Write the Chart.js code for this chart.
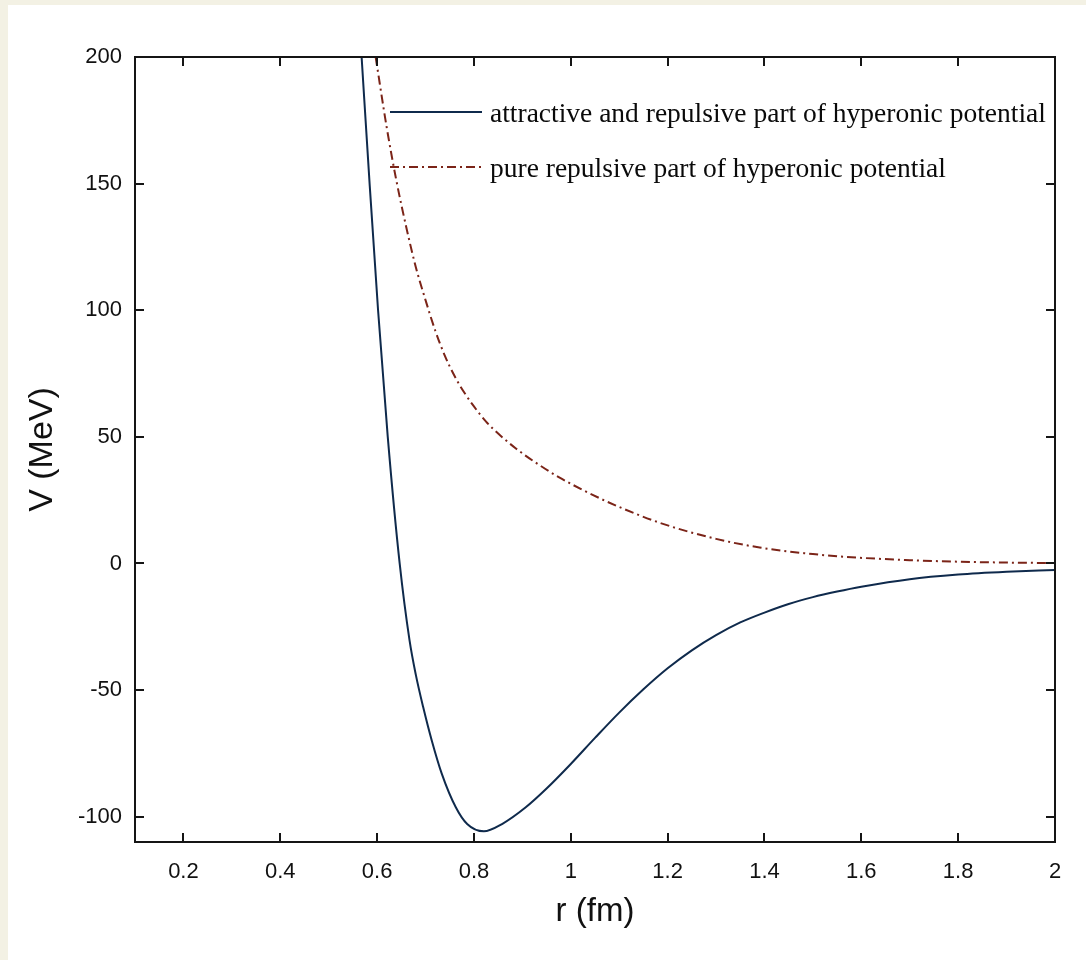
<!DOCTYPE html>
<html>
<head>
<meta charset="utf-8">
<script src="https://cdn.jsdelivr.net/npm/chart.js@4"></script>
<style>
  body { margin: 0; background: #f3f1e4; }
  #cadre { position: absolute; left: 8px; top: 5px; right: 0; bottom: 0; background: #fff; }
  #graphique { position: absolute; left: 0; top: 0; }
</style>
</head>
<body>
<div id="cadre"></div>
<canvas id="graphique" width="1086" height="960"></canvas>
<script>
// DONNEES
const r_total = [0.568, 0.5845, 0.602, 0.622, 0.6466, 0.667, 0.680, 0.695, 0.713, 0.7335, 0.7625, 0.786, 0.8205, 0.858, 0.907, 0.950, 1.000, 1.050, 1.100, 1.150, 1.200, 1.250, 1.300, 1.350, 1.400, 1.450, 1.500, 1.550, 1.600, 1.700, 1.800, 1.900, 2.000];
const v_total = [200, 150, 100, 50, 0, -30.4, -44, -56.6, -70, -83, -96.3, -102.9, -105.8, -102.9, -96.3, -88.9, -79.2, -68.9, -58.9, -49.7, -41.4, -34.3, -28.3, -23.3, -19.4, -16.0, -13.3, -11.1, -9.2, -6.2, -4.4, -3.3, -2.55];

const r_repulsif = [0.597, 0.620, 0.640, 0.660, 0.680, 0.700, 0.720, 0.740, 0.760, 0.780, 0.800, 0.825, 0.850, 0.886, 0.934, 0.976, 1.044, 1.100, 1.183, 1.300, 1.390, 1.500, 1.597, 1.700, 1.800, 1.900, 2.000];
const v_repulsif = [200, 172, 151, 133, 117, 104, 92, 82, 74, 67.5, 62, 56, 51.3, 45.5, 39, 34, 27.2, 22.3, 16.1, 9.7, 6.3, 3.7, 2.25, 1.3, 0.7, 0.35, 0.15];

const x_ticks = [0.2, 0.4, 0.6, 0.8, 1, 1.2, 1.4, 1.6, 1.8, 2];
const y_ticks = [-100, -50, 0, 50, 100, 150, 200];

const labels_legende = ['attractive and repulsive part of hyperonic potential', 'pure repulsive part of hyperonic potential'];

const couleurBleu = '#0f2a4c';
const couleurRouge = '#7b2418';
const tiretPoint = [9, 4, 2, 4];

function enPoints(rs, vs) {
    return rs.map((r, i) => ({x: r, y: vs[i]}));
}

// CADRE NOIR + PETITS TRAITS VERS L'INTERIEUR SUR LES 4 COTES
const cadreEtTraits = {
    id: 'cadreEtTraits',
    afterDraw(chart) {
        const {ctx, chartArea: a, scales: {x, y}} = chart;
        ctx.save();
        ctx.strokeStyle = '#151515';
        ctx.lineWidth = 2;
        ctx.strokeRect(a.left, a.top, a.right - a.left, a.bottom - a.top);
        ctx.beginPath();
        x_ticks.forEach(v => {
            const px = Math.round(x.getPixelForValue(v));
            ctx.moveTo(px, a.bottom); ctx.lineTo(px, a.bottom - 9);
            ctx.moveTo(px, a.top); ctx.lineTo(px, a.top + 9);
        });
        y_ticks.forEach(v => {
            const py = Math.round(y.getPixelForValue(v));
            ctx.moveTo(a.left, py); ctx.lineTo(a.left + 9, py);
            ctx.moveTo(a.right, py); ctx.lineTo(a.right - 9, py);
        });
        ctx.stroke();
        ctx.restore();
    }
};

// LEGENDE DANS LE GRAPHIQUE (EN HAUT A DROITE)
const legendeInterne = {
    id: 'legendeInterne',
    afterDraw(chart) {
        const {ctx, chartArea: a} = chart;
        const x0 = a.left + 255, x1 = a.left + 347, xt = a.left + 355;
        const lignes = [a.top + 55, a.top + 110];
        ctx.save();
        ctx.lineWidth = 2;
        chart.data.datasets.forEach((ds, i) => {
            ctx.strokeStyle = ds.borderColor;
            ctx.setLineDash(ds.borderDash || []);
            ctx.beginPath();
            ctx.moveTo(x0, lignes[i]);
            ctx.lineTo(x1, lignes[i]);
            ctx.stroke();
        });
        ctx.setLineDash([]);
        ctx.font = '22px "Liberation Serif", "DejaVu Serif", serif';
        const w = ctx.measureText(labels_legende[0]).width;
        const taille = 22 * 555 / w;
        ctx.font = taille.toFixed(1) + 'px "Liberation Serif", "DejaVu Serif", serif';
        ctx.fillStyle = '#0a0a0a';
        ctx.textBaseline = 'middle';
        labels_legende.forEach((t, i) => ctx.fillText(t, xt, lignes[i] + 3));
        ctx.restore();
    }
};

const graph = document.getElementById('graphique');

new Chart(graph, {
    type: 'line',
    data: {
        datasets: [{
            label: labels_legende[0],
            data: enPoints(r_total, v_total),
            borderColor: couleurBleu,
            borderWidth: 2,
            pointRadius: 0,
            cubicInterpolationMode: 'monotone',
        }, {
            label: labels_legende[1],
            data: enPoints(r_repulsif, v_repulsif),
            borderColor: couleurRouge,
            borderWidth: 2,
            borderDash: tiretPoint,
            pointRadius: 0,
            cubicInterpolationMode: 'monotone',
        }]
    },
    options: {
        responsive: false,
        animation: false,
        layout: {
            padding: {top: 57, right: 31, bottom: 0, left: 0}
        },
        plugins: {
            legend: {display: false},
            tooltip: {enabled: false},
        },
        scales: {
            x: {
                type: 'linear',
                min: 0.1,
                max: 2,
                afterBuildTicks: axe => { axe.ticks = x_ticks.map(v => ({value: v})); },
                afterFit: axe => { axe.height = 118; },
                grid: {display: false, drawTicks: false},
                border: {display: false},
                ticks: {
                    autoSkip: false,
                    maxRotation: 0,
                    padding: 17,
                    color: '#111',
                    font: {family: '"Liberation Sans", Arial, sans-serif', size: 22},
                    callback: v => String(Math.round(v * 10) / 10),
                },
                title: {
                    display: true,
                    text: 'r (fm)',
                    color: '#111',
                    padding: {top: 0, bottom: 28},
                    font: {family: '"Liberation Sans", Arial, sans-serif', size: 33},
                },
            },
            y: {
                min: -110,
                max: 200,
                afterBuildTicks: axe => { axe.ticks = y_ticks.map(v => ({value: v})); },
                afterFit: axe => { axe.width = 135; },
                grid: {display: false, drawTicks: false},
                border: {display: false},
                ticks: {
                    autoSkip: false,
                    padding: 13,
                    color: '#111',
                    font: {family: '"Liberation Sans", Arial, sans-serif', size: 22},
                },
                title: {
                    display: true,
                    text: 'V (MeV)',
                    color: '#111',
                    padding: {top: 22, bottom: 0},
                    font: {family: '"Liberation Sans", Arial, sans-serif', size: 34},
                },
            },
        },
    },
    plugins: [cadreEtTraits, legendeInterne],
});
</script>
</body>
</html>
